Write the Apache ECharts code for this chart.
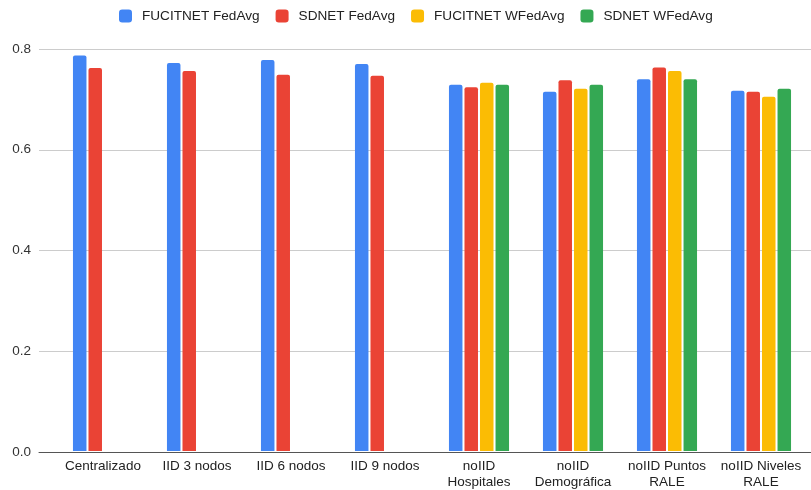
<!DOCTYPE html>
<html>
<head>
<meta charset="utf-8">
<script src="https://cdn.jsdelivr.net/npm/echarts@6/dist/echarts.min.js"></script>
<style>
  html, body { margin: 0; padding: 0; background: #fff; }
  #chart { width: 811px; height: 490px; }
</style>
</head>
<body>
<div id="chart"></div>
<script>
// Categories (experimental setups)
const categories = [
  'Centralizado', 'IID 3 nodos', 'IID 6 nodos', 'IID 9 nodos',
  'noIID\nHospitales', 'noIID\nDemográfica', 'noIID Puntos\nRALE', 'noIID Niveles\nRALE'
];

// Series values (null = not evaluated for that setup)
const fucitnetFedAvg  = [0.787, 0.772, 0.778, 0.770, 0.729, 0.715, 0.740, 0.717];
const sdnetFedAvg     = [0.762, 0.756, 0.749, 0.747, 0.724, 0.738, 0.763, 0.715];
const fucitnetWFedAvg = [null, null, null, null, 0.733, 0.721, 0.756, 0.705];
const sdnetWFedAvg    = [null, null, null, null, 0.729, 0.729, 0.740, 0.721];

const seriesNames  = ['FUCITNET FedAvg', 'SDNET FedAvg', 'FUCITNET WFedAvg', 'SDNET WFedAvg'];
const seriesColors = ['#4285F4', '#EA4335', '#FBBC04', '#34A853'];
const seriesData   = [fucitnetFedAvg, sdnetFedAvg, fucitnetWFedAvg, sdnetWFedAvg];

// Y axis ticks
const yMin = 0, yMax = 0.8, yStep = 0.2;

const FONT = '"Liberation Sans", Arial, sans-serif';

const chart = echarts.init(document.getElementById('chart'), null, { renderer: 'canvas' });

chart.setOption({
  animation: false,
  backgroundColor: '#ffffff',
  textStyle: { fontFamily: FONT },
  legend: {
    top: 9,
    left: 119,
    padding: 0,
    itemWidth: 13,
    itemHeight: 13,
    itemGap: 16,
    icon: 'roundRect',
    textStyle: { fontFamily: FONT, fontSize: 13.6, color: '#222', padding: [0, 0, 0, 5] },
    data: seriesNames
  },
  grid: [
    // background grid: full-width gridlines and value labels
    { left: 39, right: 0, top: 49, bottom: 38 },
    // plotting grid for the bars
    { left: 56, right: 3, top: 49, bottom: 38 }
  ],
  xAxis: [
    {
      gridIndex: 0, type: 'category', data: [''],
      axisLine: { show: true, lineStyle: { color: '#555', width: 1 } },
      axisTick: { show: false }, axisLabel: { show: false }
    },
    {
      gridIndex: 1, type: 'category', data: categories,
      axisLine: { show: false }, axisTick: { show: false },
      axisLabel: {
        interval: 0, margin: 8, fontFamily: FONT, fontSize: 13.5, color: '#222', lineHeight: 15.5
      }
    }
  ],
  yAxis: [
    {
      gridIndex: 0, type: 'value', min: yMin, max: yMax, interval: yStep,
      axisLine: { show: false }, axisTick: { show: false },
      axisLabel: {
        margin: 8, fontFamily: FONT, fontSize: 13.5, color: '#333',
        formatter: v => v.toFixed(1)
      },
      splitLine: { show: true, lineStyle: { color: '#cccccc', width: 1 } }
    },
    {
      gridIndex: 1, type: 'value', min: yMin, max: yMax, interval: yStep,
      axisLine: { show: false }, axisTick: { show: false },
      axisLabel: { show: false }, splitLine: { show: false }
    }
  ],
  series: seriesNames.map((name, i) => ({
    name,
    type: 'bar',
    xAxisIndex: 1,
    yAxisIndex: 1,
    data: seriesData[i],
    barWidth: 13.5,
    barGap: '15%',
    itemStyle: { color: seriesColors[i], borderRadius: [2, 2, 0, 0] }
  }))
});
</script>
</body>
</html>
